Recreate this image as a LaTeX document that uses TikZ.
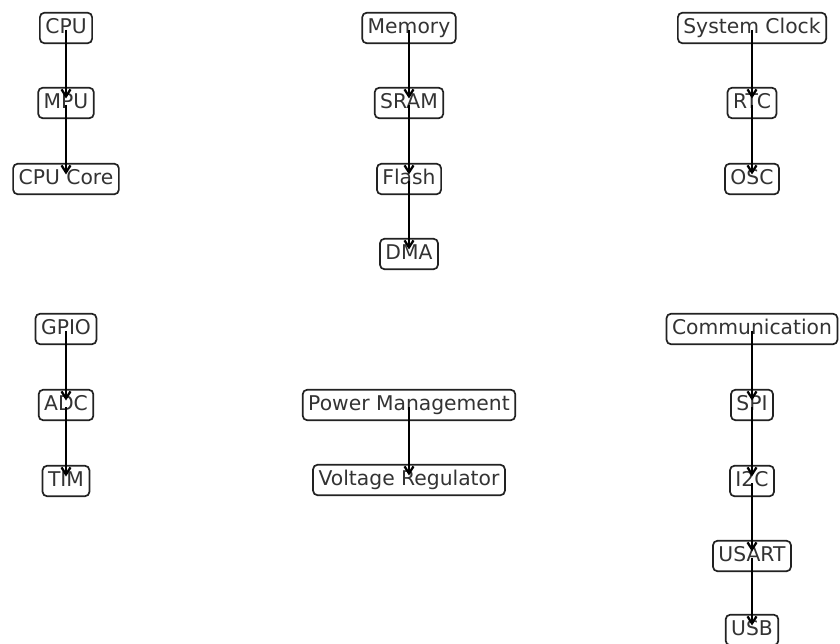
\documentclass[tikz,border=0pt]{standalone}
\usepackage{fontspec}
\setmainfont{DejaVu Sans}
\usetikzlibrary{arrows.meta}
\definecolor{txt}{HTML}{333333}
\definecolor{brd}{HTML}{222222}
\tikzset{
  box/.style={draw=brd, line width=1.7pt, rounded corners=4.5pt, fill=white,
    text=txt, font=\fontsize{20.3}{24}\selectfont, inner xsep=5.5pt, inner ysep=5.5pt,
    text height=15pt, text depth=4.5pt},
  arr/.style={draw=black, line width=2.3pt, -{Straight Barb[length=7pt,width=9pt,line width=2.3pt]},
    shorten <=2pt, shorten >=4.5pt}
}
\begin{document}
\begin{tikzpicture}[x=1pt,y=-1pt]
\useasboundingbox (0,0) rectangle (840,644);
% column 1 top
\node[box] (cpu) at (66,28) {CPU};
\node[box] (mpu) at (66,103) {MPU};
\node[box] (core) at (66,179) {CPU Core};
% column 2 top
\node[box] (mem) at (409,28) {Memory};
\node[box] (sram) at (409,103) {SRAM};
\node[box] (flash) at (409,179) {Flash};
\node[box] (dma) at (409,254) {DMA};
% column 3 top
\node[box] (clk) at (752,28) {System Clock};
\node[box] (rtc) at (752,103) {RTC};
\node[box] (osc) at (752,179) {OSC};
% column 1 bottom
\node[box] (gpio) at (66,329) {GPIO};
\node[box] (adc) at (66,405) {ADC};
\node[box] (tim) at (66,481) {TIM};
% column 2 bottom
\node[box] (pm) at (409,405) {Power Management};
\node[box] (vr) at (409,480) {Voltage Regulator};
% column 3 bottom
\node[box] (com) at (752,329) {Communication};
\node[box] (spi) at (752,405) {SPI};
\node[box] (i2c) at (752,481) {I2C};
\node[box] (usart) at (752,556) {USART};
\node[box] (usb) at (752,630) {USB};
% arrows
\foreach \a/\b in {cpu/mpu, mpu/core, mem/sram, sram/flash, flash/dma, clk/rtc, rtc/osc,
  gpio/adc, adc/tim, pm/vr, com/spi, spi/i2c, i2c/usart, usart/usb}
  \draw[arr] (\a.center) -- (\b.center);
\end{tikzpicture}
\end{document}
